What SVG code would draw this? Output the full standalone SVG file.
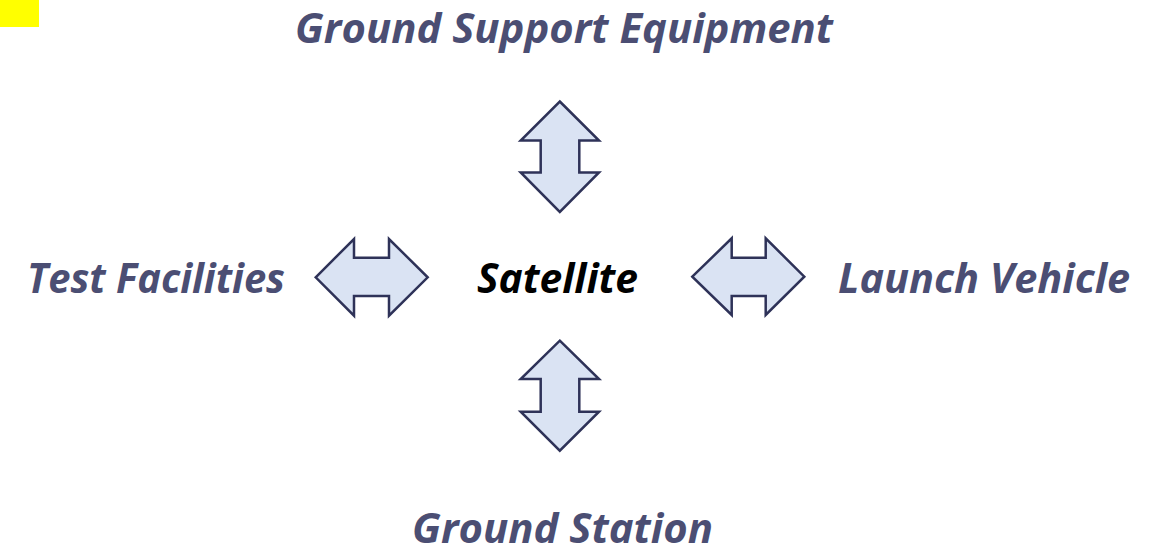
<svg xmlns="http://www.w3.org/2000/svg" width="1156" height="548" viewBox="0 0 1156 548">
<style>
.lbl{font-family:"Open Sans","Liberation Sans",sans-serif;font-weight:bold;font-style:italic;font-size:42px;fill:#4b4e73}
.ctr{fill:#000}
.arr{fill:#dae3f3;stroke:#2e3258;stroke-width:2.5;stroke-linejoin:miter}
</style>
<rect width="1156" height="548" fill="#fff"/>
<rect x="0" y="0" width="39" height="27" fill="#ffff00"/>
<g id="satellite"><text class="lbl ctr" x="477" y="293" textLength="161" lengthAdjust="spacingAndGlyphs">Satellite</text></g>
<g id="gse"><text class="lbl" x="295" y="43" textLength="538" lengthAdjust="spacingAndGlyphs">Ground Support Equipment</text></g>
<g id="test"><text class="lbl" x="27" y="293" textLength="258" lengthAdjust="spacingAndGlyphs">Test Facilities</text></g>
<g id="lv"><text class="lbl" x="838" y="293" textLength="292" lengthAdjust="spacingAndGlyphs">Launch Vehicle</text></g>
<g id="gs"><text class="lbl" x="412" y="543" textLength="301" lengthAdjust="spacingAndGlyphs">Ground Station</text></g>
<g id="connectors">
<polygon class="arr" points="559.8,101.5 599,140.5 579.3,140.5 579.3,172.5 599,172.5 559.8,212 520.7,172.5 540.7,172.5 540.7,140.5 520.7,140.5"/>
<polygon class="arr" points="559.8,340.7 599,379 579.3,379 579.3,411.7 599,411.7 559.8,450.7 520.7,411.7 540.7,411.7 540.7,379 520.7,379"/>
<polygon class="arr" points="315.7,277.3 354,239 354,257.7 389,257.7 389,239 427.7,277.3 389,315.7 389,296 354,296 354,315.7"/>
<polygon class="arr" points="692.3,276.7 731.7,238.3 731.7,257.7 765.7,257.7 765.7,238.3 804.3,276.7 765.7,315 765.7,296 731.7,296 731.7,315"/>
</g>
</svg>
